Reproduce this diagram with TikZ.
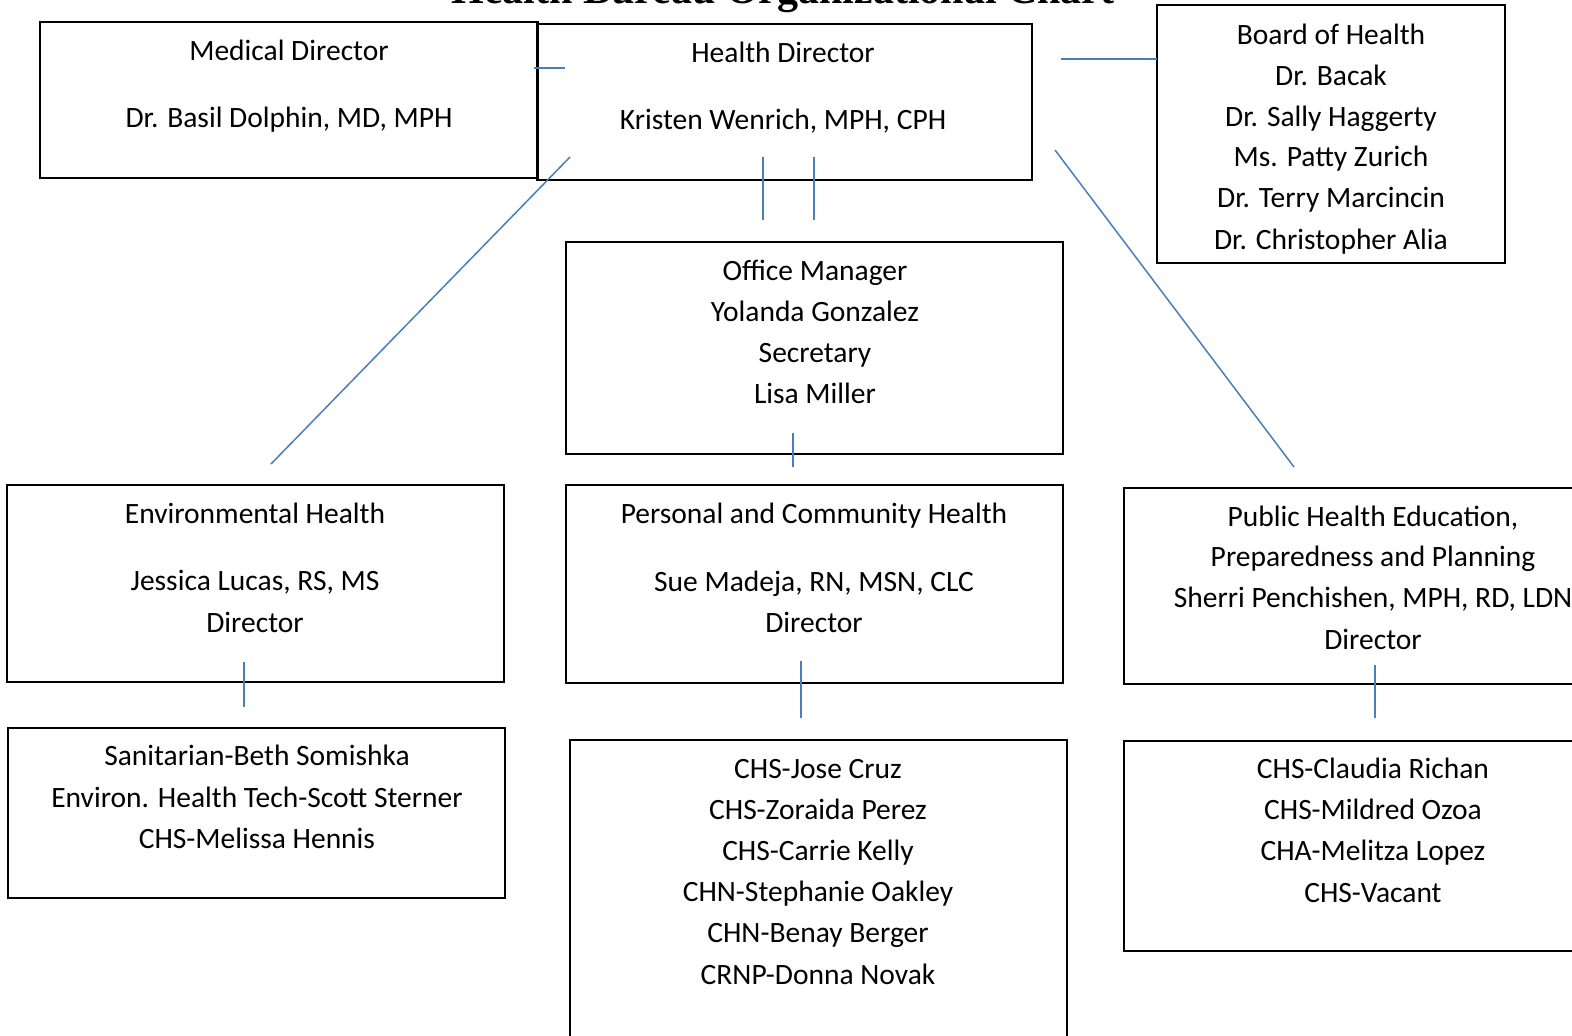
\documentclass[tikz,border=0pt]{standalone}
\usepackage{fontspec}
\setmainfont{Carlito}
\newfontfamily\titlefont{Liberation Serif}
\definecolor{linkblue}{HTML}{4A7EBB}
\begin{document}
\begin{tikzpicture}[x=1pt,y=-1pt,
  box/.style={draw=black,line width=1.8pt,rectangle,inner sep=0pt},
  conn/.style={draw=linkblue,line width=1.5pt},
  txt/.style={anchor=base,inner sep=0pt,font=\fontsize{29.5}{35}\selectfont}]
\useasboundingbox (0,0) rectangle (1572,1036);
\clip (0,0) rectangle (1572,1036);
\fill[white] (0,0) rectangle (1572,1036);
% title (cut off at the top, as in the reference)
\node[anchor=base,inner sep=0pt,font=\titlefont\bfseries\fontsize{42}{50}\selectfont] (title) at (783,4) {Health Bureau Organizational Chart};
% boxes
\node[box,minimum width=498pt,minimum height=156pt] (md) at (289,100) {};
\node[box,minimum width=495pt,minimum height=156pt] (hd) at (784.5,102) {};
\node[box,minimum width=348pt,minimum height=258pt] (boh) at (1331,134) {};
\node[box,minimum width=497pt,minimum height=212pt] (om) at (814.5,348) {};
\node[box,minimum width=497pt,minimum height=197pt] (eh) at (255.5,583.5) {};
\node[box,minimum width=497pt,minimum height=198pt] (pch) at (814.5,584) {};
\node[box,minimum width=498pt,minimum height=196pt] (phe) at (1373,586) {};
\node[box,minimum width=497pt,minimum height=170pt] (san) at (256.5,813) {};
\node[box,minimum width=497pt,minimum height=340pt] (chs) at (818.5,910) {};
\node[box,minimum width=498pt,minimum height=210pt] (cl) at (1373,846) {};
% texts
\node[txt] (md1) at (289,60) {Medical Director};
\node[txt] (md2) at (289,127) {Dr. Basil Dolphin, MD, MPH};
\node[txt] (hd1) at (783,62) {Health Director};
\node[txt] (hd2) at (783,129) {Kristen Wenrich, MPH, CPH};
\node[txt] (boh1) at (1331,44) {Board of Health};
\node[txt] (boh2) at (1331,85) {Dr. Bacak};
\node[txt] (boh3) at (1331,126) {Dr. Sally Haggerty};
\node[txt] (boh4) at (1331,166) {Ms. Patty Zurich};
\node[txt] (boh5) at (1331,207) {Dr. Terry Marcincin};
\node[txt] (boh6) at (1331,249) {Dr. Christopher Alia};
\node[txt] (om1) at (815,280) {Office Manager};
\node[txt] (om2) at (815,321) {Yolanda Gonzalez};
\node[txt] (om3) at (815,362) {Secretary};
\node[txt] (om4) at (815,403) {Lisa Miller};
\node[txt] (eh1) at (255,523) {Environmental Health};
\node[txt] (eh2) at (255,590) {Jessica Lucas, RS, MS};
\node[txt] (eh3) at (255,632) {Director};
\node[txt] (pch1) at (814,523) {Personal and Community Health};
\node[txt] (pch2) at (814,591) {Sue Madeja, RN, MSN, CLC};
\node[txt] (pch3) at (814,632) {Director};
\node[txt] (phe1) at (1373,526) {Public Health Education,};
\node[txt] (phe2) at (1373,566) {Preparedness and Planning};
\node[txt] (phe3) at (1373,607) {Sherri Penchishen, MPH, RD, LDN};
\node[txt] (phe4) at (1373,649) {Director};
\node[txt] (san1) at (257,765) {Sanitarian-Beth Somishka};
\node[txt] (san2) at (257,807) {Environ. Health Tech-Scott Sterner};
\node[txt] (san3) at (257,848) {CHS-Melissa Hennis};
\node[txt] (chs1) at (818,778) {CHS-Jose Cruz};
\node[txt] (chs2) at (818,819) {CHS-Zoraida Perez};
\node[txt] (chs3) at (818,860) {CHS-Carrie Kelly};
\node[txt] (chs4) at (818,901) {CHN-Stephanie Oakley};
\node[txt] (chs5) at (818,942) {CHN-Benay Berger};
\node[txt] (chs6) at (818,984) {CRNP-Donna Novak};
\node[txt] (cl1) at (1373,778) {CHS-Claudia Richan};
\node[txt] (cl2) at (1373,819) {CHS-Mildred Ozoa};
\node[txt] (cl3) at (1373,860) {CHA-Melitza Lopez};
\node[txt] (cl4) at (1373,902) {CHS-Vacant};
% connector end points
\coordinate (a1) at (534,68);   \coordinate (a2) at (565,68);
\coordinate (b1) at (1061,59);  \coordinate (b2) at (1157,59);
\coordinate (c1) at (570,157);  \coordinate (c2) at (271,464);
\coordinate (d1) at (763,157);  \coordinate (d2) at (763,220);
\coordinate (e1) at (814,157);  \coordinate (e2) at (814,220);
\coordinate (f1) at (1055,150); \coordinate (f2) at (1294,467);
\coordinate (g1) at (793,433);  \coordinate (g2) at (793,467);
\coordinate (h1) at (244,662);  \coordinate (h2) at (244,707);
\coordinate (i1) at (801,661);  \coordinate (i2) at (801,718);
\coordinate (j1) at (1375,665); \coordinate (j2) at (1375,718);
% connectors
\draw[conn] (a1) -- (a2);
\draw[conn] (b1) -- (b2);
\draw[conn] (c1) -- (c2);
\draw[conn] (d1) -- (d2);
\draw[conn] (e1) -- (e2);
\draw[conn] (f1) -- (f2);
\draw[conn] (g1) -- (g2);
\draw[conn] (h1) -- (h2);
\draw[conn] (i1) -- (i2);
\draw[conn] (j1) -- (j2);
\end{tikzpicture}
\end{document}
